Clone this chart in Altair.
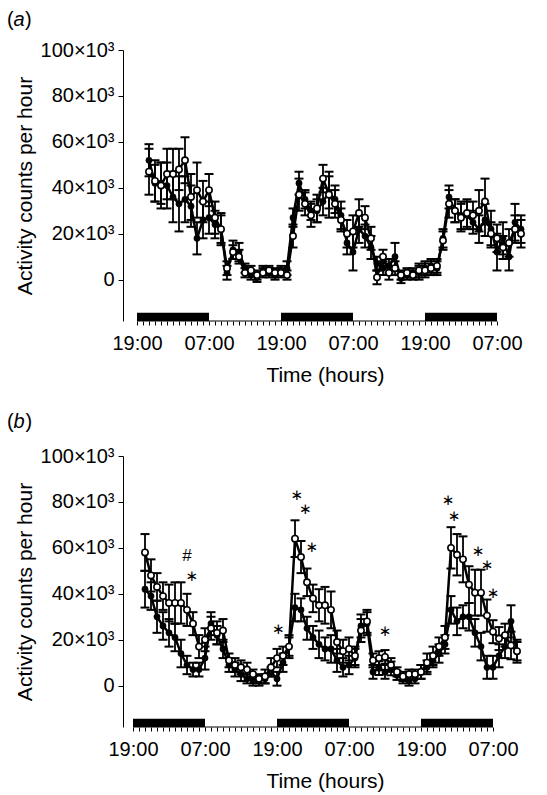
import altair as alt
import pandas as pd

FONT = "Liberation Sans"

# hours after 19:00 of the first evening
HOURS = list(range(2, 65))
TICK_HOURS = list(range(0, 61))
NIGHT_START = [0, 24, 48]
NIGHT_END = [12, 36, 60]
Y_TICKS = [0, 20, 40, 60, 80, 100]

# panel (a) values, x10^3 counts per hour
A_FILLED = [52, 42, 42, 41, 36, 33, 35, 32, 18, 26, 27, 24, 22,
            3, 13, 12, 5, 2, 1, 4, 3, 2, 4, 5,
            27, 42, 35, 30, 30, 34, 38, 35, 28, 16, 12, 22, 19, 14,
            7, 5, 6, 10, 0.5, 2, 3, 3, 5, 6, 5,
            18, 36, 30, 28, 28, 25, 22, 26, 22, 12, 18, 10, 25, 22]
A_FILLED_ERR = [7, 8, 9, 10, 11, 12, 10, 9, 7, 8, 7, 6, 6,
                3, 4, 4, 2, 2, 2, 2, 2, 2, 2, 3,
                4, 5, 4, 4, 5, 6, 7, 6, 6, 5, 8, 6, 5, 5,
                3, 3, 3, 6, 2, 2, 2, 3, 3, 3, 3,
                4, 5, 5, 6, 6, 5, 6, 7, 8, 8, 7, 6, 8, 6]
A_OPEN = [47, 43, 41, 46, 46, 48, 52, 36, 39, 34, 39, 27, 22,
          5, 12, 10, 3, 4, 2, 3, 4, 3, 3, 2,
          19, 37, 33, 28, 31, 44, 37, 33, 26, 20, 21, 29, 27, 18,
          1, 10, 3, 5, 2, 3, 2, 4, 4, 5, 6,
          17, 33, 30, 27, 29, 28, 30, 34, 20, 18, 14, 16, 22, 20]
A_OPEN_ERR = [10, 9, 10, 11, 11, 9, 10, 10, 12, 9, 7, 7, 7,
              3, 3, 3, 2, 2, 2, 2, 2, 2, 2, 2,
              5, 7, 5, 5, 6, 6, 10, 6, 5, 6, 7, 6, 5, 5,
              3, 3, 3, 3, 2, 2, 2, 3, 3, 3, 3,
              4, 6, 5, 6, 6, 6, 9, 10, 5, 6, 5, 6, 6, 6]

# panel (b) values, x10^3 counts per hour
B_FILLED = [42, 39, 30, 26, 23, 21, 14, 9, 7, 7, 12, 27, 22, 16,
            9, 7, 5, 3, 2, 2, 3, 6, 3, 10, 17,
            34, 33, 25, 21, 18, 16, 16, 11, 8, 9, 12, 26, 27,
            6, 7.6, 6, 7.5, 4.5, 3, 2, 3, 6, 8, 11, 14, 18,
            33, 28, 30, 30, 23, 17, 8, 8, 13, 17, 28, 15]
B_FILLED_ERR = [8, 6, 7, 6, 6, 6, 6, 4, 3, 3, 5, 5, 4, 4,
                3, 3, 3, 2, 2, 2, 2, 2, 3, 4, 4,
                6, 5, 5, 5, 6, 5, 6, 5, 4, 4, 4, 5, 5,
                3, 3, 3, 3, 2, 2, 2, 2, 3, 3, 3, 4, 4,
                6, 6, 5, 6, 6, 6, 5, 5, 5, 5, 7, 4]
B_OPEN = [58, 48, 43, 39, 36, 36, 36, 33, 27, 17, 20, 25, 23, 24,
          11, 9, 8, 7, 5, 3, 4, 8, 12, 13, 17,
          64, 56, 45, 38, 35, 35, 33, 19, 15, 16, 13, 24, 28,
          11, 12, 12.5, 9, 6, 4, 5, 5, 6, 10, 13, 17, 21,
          60, 57, 55, 44, 40.5, 40.5, 30.5, 23.5, 20.5, 22, 17.5, 15]
B_OPEN_ERR = [8, 7, 6, 6, 8, 9, 9, 7, 5, 5, 5, 5, 5, 5,
              3, 3, 3, 3, 2, 2, 3, 4, 4, 4, 5,
              8, 7, 6, 6, 7, 8, 8, 5, 5, 5, 4, 5, 5,
              3, 3, 3, 3, 2, 2, 2, 2, 3, 4, 4, 4, 5,
              9, 9, 10, 8, 10, 10, 7, 5, 5, 5, 6, 5]

# significance markers in panel (b)
STAR_H = [9.8, 24.2, 27.3, 28.7, 29.8, 42.0, 52.5, 53.5, 57.5, 59.0, 60.0]
STAR_V = [47.8, 24.8, 83.0, 76.9, 60.4, 23.9, 80.9, 73.9, 58.7, 52.6, 40.4]
HASH_H = [9.0]
HASH_V = [56.5]


def panel(letter, filled, filled_err, open_, open_err, xmin, xmax,
          label_y, stars=None, hashes=None):
    rows = []
    for h, f, fe, o, oe in zip(HOURS, filled, filled_err, open_, open_err):
        rows.append(dict(h=h, v=f, lo=f - fe, hi=f + fe, s="filled"))
        rows.append(dict(h=h, v=o, lo=o - oe, hi=o + oe, s="open"))
    df = pd.DataFrame(rows)

    xscale = alt.Scale(domain=[xmin, xmax], nice=False, zero=False)
    yscale = alt.Scale(domain=[-18, 100], nice=False, zero=False)
    xaxis = alt.Axis(values=TICK_HOURS,
                     labelExpr="datum.value % 24 == 0 ? '19:00' : (datum.value % 12 == 0 ? '07:00' : '')",
                     domain=False, grid=False, tickSize=4, tickColor="black",
                     tickWidth=1, labelFontSize=20, labelPadding=8,
                     labelFlush=False, labelOverlap=False, labelBound=False,
                     titleFontSize=21, titlePadding=11)
    yaxis = alt.Axis(values=Y_TICKS,
                     labelExpr="datum.value == 0 ? '0' : datum.value + '×10³'",
                     domain=True, domainColor="black", domainWidth=1,
                     grid=False, tickSize=5, tickColor="black",
                     labelFontSize=20, labelPadding=4, labelOverlap=False,
                     titleFontSize=21, titlePadding=5)

    def X(field):
        return alt.X(field, type="quantitative", scale=xscale, axis=xaxis,
                     title="Time (hours)")

    def Y(field):
        return alt.Y(field, type="quantitative", scale=yscale, axis=yaxis,
                     title="Activity counts per hour")

    night_df = pd.DataFrame({"start": NIGHT_START, "end": NIGHT_END,
                             "top": [-14.4] * 3, "bot": [-18] * 3})
    night = alt.Chart(night_df).mark_rect(color="black").encode(
        x=X("start"), x2="end", y=Y("top"), y2="bot")
    base = alt.Chart(pd.DataFrame({"start": [NIGHT_START[0]], "end": [NIGHT_END[-1]],
                                   "bot": [-18]})).mark_rule(
        color="black", strokeWidth=1).encode(x=X("start"), x2="end", y=Y("bot"))

    err = alt.Chart(df).mark_rule(color="black", strokeWidth=1.8).encode(
        x=X("h"), y=Y("lo"), y2="hi")
    cap_hi = alt.Chart(df).mark_tick(orient="horizontal", size=9, thickness=2,
                                     color="black", opacity=1).encode(x=X("h"), y=Y("hi"))
    cap_lo = alt.Chart(df).mark_tick(orient="horizontal", size=9, thickness=2,
                                     color="black", opacity=1).encode(x=X("h"), y=Y("lo"))
    lines = alt.Chart(df).mark_line(color="black", strokeWidth=2.5).encode(
        x=X("h"), y=Y("v"), detail="s:N")
    pts_f = alt.Chart(df).transform_filter("datum.s == 'filled'").mark_circle(
        size=45, color="black", opacity=1).encode(x=X("h"), y=Y("v"))
    pts_o = alt.Chart(df).transform_filter("datum.s == 'open'").mark_circle(
        size=40, fill="white", stroke="black", strokeWidth=1.6, opacity=1).encode(
        x=X("h"), y=Y("v"))

    layers = [night, base, err, cap_hi, cap_lo, lines, pts_f, pts_o]

    if stars:
        sdf = pd.DataFrame({"h": stars[0], "v": stars[1], "t": ["∗"] * len(stars[0])})
        layers.append(alt.Chart(sdf).mark_text(fontSize=15, font="DejaVu Sans", fill="black",
                                               baseline="middle", dy=0).encode(
            x=X("h"), y=Y("v"), text="t:N"))
    if hashes:
        hdf = pd.DataFrame({"h": hashes[0], "v": hashes[1], "t": ["#"] * len(hashes[0])})
        layers.append(alt.Chart(hdf).mark_text(fontSize=17, font=FONT, fill="black",
                                               baseline="middle", dy=0).encode(
            x=X("h"), y=Y("v"), text="t:N"))

    one = alt.Data(values=[{}])
    for txt, dx, style in [("(", -116, "normal"), (letter, -109.5, "italic"),
                           (")", -98 if letter == "a" else -97.5, "normal")]:
        layers.append(alt.Chart(one).mark_text(text=txt, fontSize=20, font=FONT,
                                               fontStyle=style, fill="black",
                                               align="left", baseline="middle").encode(
            x=alt.value(dx), y=alt.value(label_y)))

    return alt.layer(*layers).properties(width=404, height=271)


pa = panel("a", A_FILLED, A_FILLED_ERR, A_OPEN, A_OPEN_ERR, -2.333, 65.0, -30)
pb = panel("b", B_FILLED, B_FILLED_ERR, B_OPEN, B_OPEN_ERR, -1.667, 65.667, -34,
           stars=(STAR_H, STAR_V), hashes=(HASH_H, HASH_V))

chart = alt.vconcat(pa, pb, spacing=27).properties(
    padding={"left": 7, "top": 10, "right": 5, "bottom": 5}
).configure_view(stroke=None).configure_axis(
    labelFont=FONT, titleFont=FONT, labelColor="black", titleColor="black",
    titleFontWeight="normal"
).configure_concat(spacing=27)

chart.save("out.html", embed_options={"renderer": "svg", "actions": False})
